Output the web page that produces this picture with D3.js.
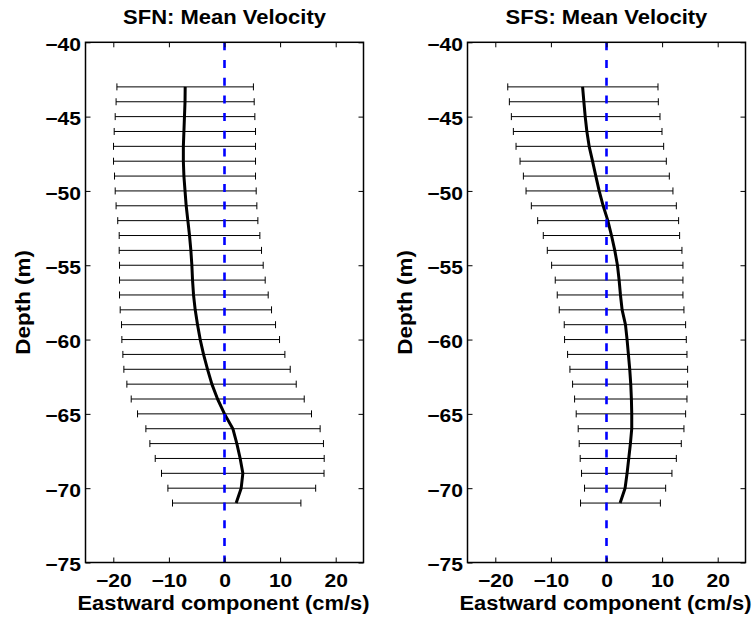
<!DOCTYPE html>
<html>
<head>
<meta charset="utf-8">
<script src="https://cdn.jsdelivr.net/npm/d3@7"></script>
<style>
  html, body { margin: 0; padding: 0; background: #fff; }
  svg { display: block; }
  text { font-family: "Liberation Sans", Arial, Helvetica, sans-serif; font-weight: bold; fill: #000; }
</style>
</head>
<body>
<svg id="chart" width="756" height="621"></svg>
<script>
// ---------------- data ----------------
const depth = [-43,-44,-45,-46,-47,-48,-49,-50,-51,-52,-53,-54,-55,-56,-57,-58,-59,-60,-61,-62,-63,-64,-65,-66,-67,-68,-69,-70,-71];

const sfnMean  = [-7.07,-7.1,-7.2,-7.3,-7.4,-7.4,-7.3,-7.1,-6.89,-6.59,-6.29,-6.05,-5.87,
                  -5.75,-5.57,-5.27,-4.85,-4.37,-3.77,-3.05,-2.27,-1.25,0,1.5,2.22,2.82,3.3,3.0,2.1];
const sfnLower = [-19.35,-19.5,-19.66,-19.84,-19.96,-19.96,-19.78,-19.66,-19.5,-19.2,-18.94,-18.94,-18.88,
                  -18.88,-18.88,-18.76,-18.52,-18.46,-18.28,-18.1,-17.56,-16.78,-15.64,-14.14,-13.42,-12.46,-11.33,-10.18,-9.35];
const sfnUpper = [5.2,5.34,5.46,5.58,5.58,5.58,5.58,5.7,5.82,6.0,6.36,6.66,6.96,
                  7.32,7.86,8.46,9.18,9.9,10.86,11.82,12.9,14.34,15.65,17.2,17.8,17.93,17.9,16.4,13.74];

const sfsMean  = [-4.3,-4.07,-3.83,-3.53,-3.12,-2.51,-1.92,-1.32,-0.6,0.24,0.9,1.49,1.97,
                  2.27,2.51,2.81,3.41,3.7,3.94,4.18,4.36,4.48,4.54,4.54,4.3,4.0,3.7,3.34,2.45];
const sfsLower = [-17.76,-17.47,-17.11,-16.75,-16.27,-15.55,-14.95,-14.47,-13.52,-12.38,-11.37,-10.65,-9.87,
                  -9.22,-8.86,-8.5,-7.6,-7.54,-7.0,-6.58,-6.1,-5.74,-5.45,-5.09,-4.91,-4.73,-4.49,-3.95,-4.67];
const sfsUpper = [9.26,9.32,9.62,9.98,10.28,10.76,11.3,11.95,12.56,12.97,13.15,13.57,13.75,
                  13.75,13.75,13.93,14.23,14.35,14.47,14.59,14.59,14.47,14.23,13.93,13.45,12.56,11.77,10.64,9.69];

const titles = ["SFN: Mean Velocity", "SFS: Mean Velocity"];
const xLabel = "Eastward component (cm/s)";
const yLabel = "Depth (m)";
const xTicks = [-20,-10,0,10,20];
const yTicks = [-40,-45,-50,-55,-60,-65,-70,-75];
const xDomain = [-25, 25];
const yDomain = [-75, -40];

// ---------------- layout ----------------
const svg = d3.select("#chart");
const plotW = 278, plotTop = 42.3, plotBottom = 562.5;
const panels = [
  { x0: 85.5,  title: titles[0], mean: sfnMean, lower: sfnLower, upper: sfnUpper },
  { x0: 467.5, title: titles[1], mean: sfsMean, lower: sfsLower, upper: sfsUpper }
];

function stretch(sel, f) {
  sel.each(function() {
    const n = this.getComputedTextLength();
    d3.select(this).attr("textLength", n * f).attr("lengthAdjust", "spacingAndGlyphs");
  });
}
const fmt = d => (d < 0 ? "\u2212" + Math.abs(d) : String(d));

panels.forEach(p => {
  const x = d3.scaleLinear().domain(xDomain).range([p.x0, p.x0 + plotW]);
  const y = d3.scaleLinear().domain(yDomain).range([plotBottom, plotTop]);
  const g = svg.append("g");

  // error bars
  const rows = depth.map((d, i) => ({ d, m: p.mean[i], lo: p.lower[i], hi: p.upper[i] }));
  const eb = g.append("g").attr("stroke", "#000").attr("stroke-width", 1).attr("fill", "none");
  eb.selectAll("line.bar").data(rows).join("line").attr("class", "bar")
    .attr("x1", r => x(r.lo)).attr("x2", r => x(r.hi))
    .attr("y1", r => y(r.d)).attr("y2", r => y(r.d));
  eb.selectAll("line.capl").data(rows).join("line").attr("class", "capl")
    .attr("x1", r => x(r.lo)).attr("x2", r => x(r.lo))
    .attr("y1", r => y(r.d) - 3.5).attr("y2", r => y(r.d) + 3.5);
  eb.selectAll("line.capr").data(rows).join("line").attr("class", "capr")
    .attr("x1", r => x(r.hi)).attr("x2", r => x(r.hi))
    .attr("y1", r => y(r.d) - 3.5).attr("y2", r => y(r.d) + 3.5);

  // mean line
  g.append("path").datum(rows)
    .attr("fill", "none").attr("stroke", "#000").attr("stroke-width", 3)
    .attr("stroke-linejoin", "round")
    .attr("d", d3.line().x(r => x(r.m)).y(r => y(r.d)));

  // zero line
  g.append("line")
    .attr("x1", x(0)).attr("x2", x(0)).attr("y1", y(yDomain[1])).attr("y2", y(yDomain[0]))
    .attr("stroke", "#0000ff").attr("stroke-width", 2.6).attr("stroke-dasharray", "8,9.7");

  // axes
  const axStyle = a => a.attr("font-size", 18).attr("font-family", null)
    .call(s => s.selectAll("path.domain").remove())
    .call(s => s.selectAll(".tick line").attr("stroke", "#000").attr("stroke-width", 1));
  const gl = g.append("g").attr("transform", `translate(${p.x0},0)`)
    .call(d3.axisLeft(y).tickValues(yTicks).tickFormat(fmt).tickSizeInner(-5).tickSizeOuter(0).tickPadding(4.5))
    .call(axStyle);
  gl.selectAll(".tick text").attr("dy", "0.45em").call(stretch, 1.17);
  const gb = g.append("g").attr("transform", `translate(0,${plotBottom})`)
    .call(d3.axisBottom(x).tickValues(xTicks).tickFormat(fmt).tickSizeInner(-5).tickSizeOuter(0).tickPadding(12.2))
    .call(axStyle);
  gb.selectAll(".tick text").call(stretch, 1.17);
  g.append("g").attr("transform", `translate(${p.x0 + plotW},0)`)
    .call(d3.axisRight(y).tickValues(yTicks).tickFormat("").tickSizeInner(-5).tickSizeOuter(0))
    .call(axStyle);
  g.append("g").attr("transform", `translate(0,${plotTop})`)
    .call(d3.axisTop(x).tickValues(xTicks).tickFormat("").tickSizeInner(-5).tickSizeOuter(0))
    .call(axStyle);

  // box
  g.append("rect").attr("x", p.x0).attr("y", plotTop).attr("width", plotW).attr("height", plotBottom - plotTop)
    .attr("fill", "none").attr("stroke", "#000").attr("stroke-width", 1.5);

  // title & labels
  g.append("text").attr("x", p.x0 + plotW / 2).attr("y", 24.3).attr("text-anchor", "middle")
    .attr("font-size", 20).text(p.title).call(stretch, 1.1);
  g.append("text").attr("x", p.x0 + plotW / 2 - 1).attr("y", 610).attr("text-anchor", "middle")
    .attr("font-size", 20).text(xLabel).call(stretch, 1.095);
  g.append("text").attr("transform", `translate(${p.x0 - 55.5},${(plotTop + plotBottom) / 2}) rotate(-90)`)
    .attr("text-anchor", "middle").attr("font-size", 20).text(yLabel).call(stretch, 1.12);
});
</script>
</body>
</html>
